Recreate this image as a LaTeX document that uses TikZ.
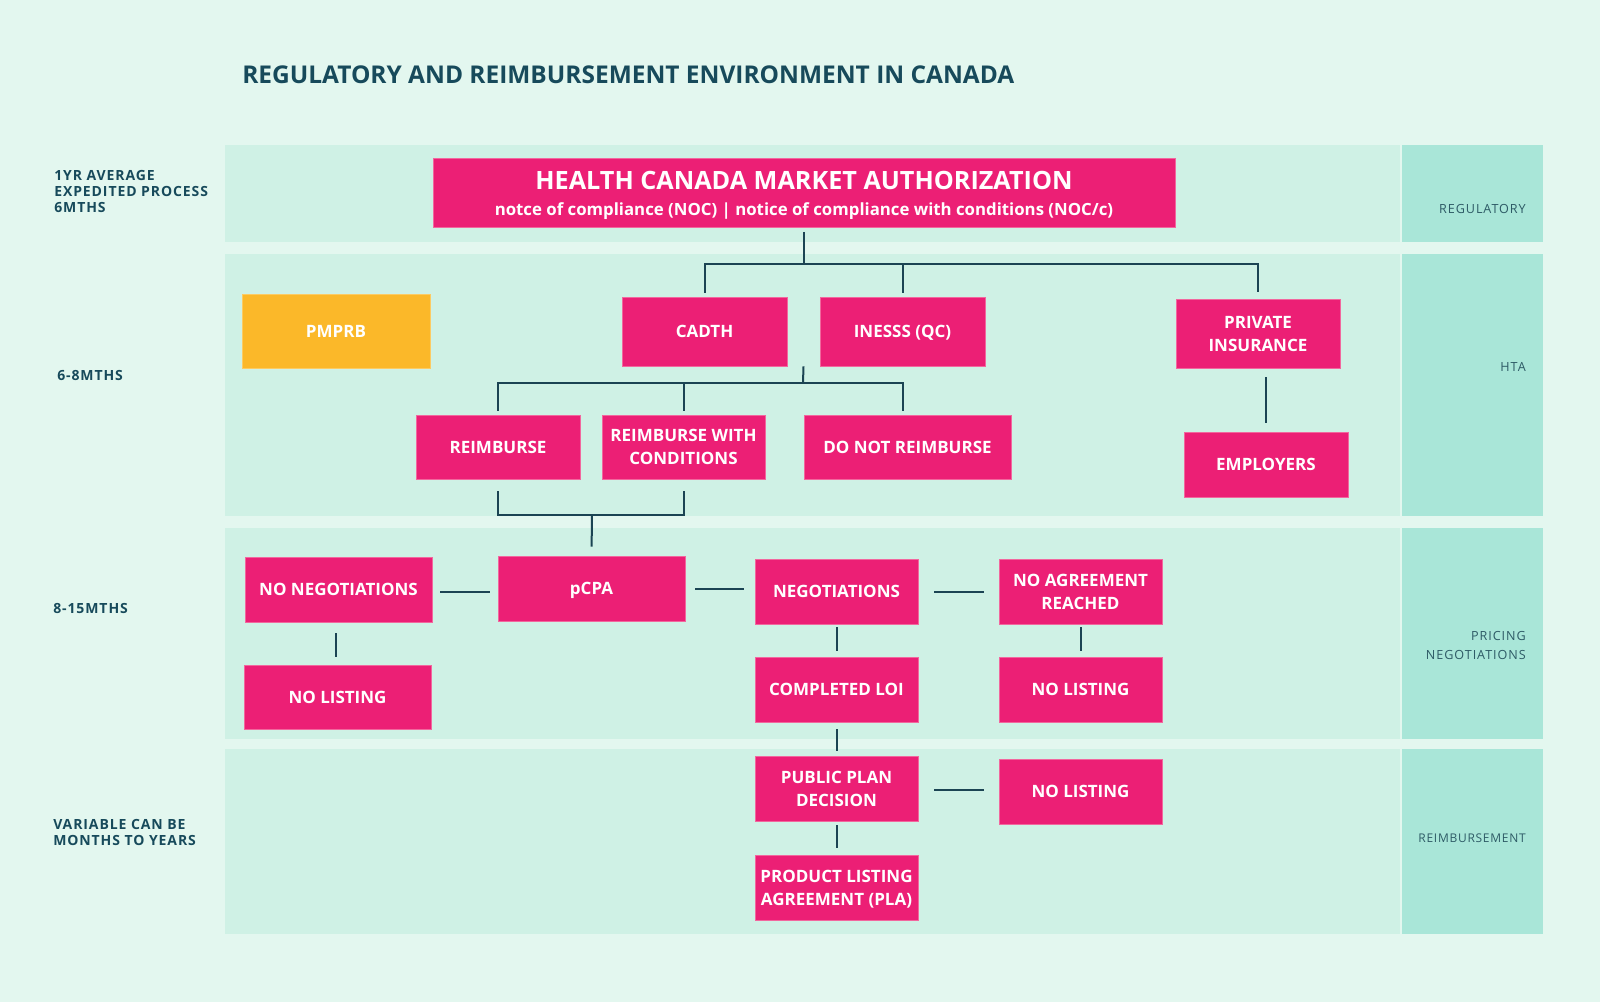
\documentclass[tikz,border=0pt]{standalone}
\usepackage{fontspec}
\setmainfont{Open Sans}
\usetikzlibrary{calc}
\definecolor{bgc}{HTML}{E3F7EF}
\definecolor{bandc}{HTML}{CFF1E5}
\definecolor{colc}{HTML}{A9E6D8}
\definecolor{pinkc}{HTML}{EC1F75}
\definecolor{pinkedge}{HTML}{F2679E}
\definecolor{orangec}{HTML}{FBB829}
\definecolor{orangeedge}{HTML}{FCCB63}
\definecolor{darkc}{HTML}{174A5B}
\definecolor{linec}{HTML}{1B4453}
\definecolor{labc}{HTML}{2E5B66}
\newcommand\pbox[7][]{\node[box,#1,minimum width={(#5-#3)*0.75pt},minimum height={(#6-#4)*0.75pt}] (#2) at ({(#3+#5)/2},{(#4+#6)/2}) {#7};}
\begin{document}
\begin{tikzpicture}[x=0.75pt,y=-0.75pt,
  box/.style={fill=pinkc,draw=pinkedge,line width=0.5pt,text=white,align=center,inner sep=0pt,text depth=0pt,font=\fontsize{12.75}{17.25}\selectfont\bfseries},
  orangebox/.style={fill=orangec,draw=orangeedge},
  conn/.style={draw=linec,line width=1.5pt},
  band/.style={fill=bandc},
  colbox/.style={fill=colc},
  titletxt/.style={text=darkc,inner sep=0pt,font=\fontsize{18.35}{22}\selectfont\bfseries},
  lefttxt/.style={text=darkc,align=left,inner sep=0pt,font=\fontsize{10.5}{12}\selectfont\bfseries\addfontfeature{LetterSpace=6.5}},
  righttxt/.style={text=labc,align=right,inner sep=0pt,font=\fontsize{9.45}{13.7}\selectfont\addfontfeature{LetterSpace=7.5}}
]
% background and bands
\fill[bgc] (0,0) rectangle (1600,1002);
\fill[band] (225,145) rectangle (1400,242);
\fill[band] (225,254) rectangle (1400,516);
\fill[band] (225,528) rectangle (1400,739);
\fill[band] (225,749) rectangle (1400,934);
\fill[colbox] (1402,145) rectangle (1543,242);
\fill[colbox] (1402,254) rectangle (1543,516);
\fill[colbox] (1402,528) rectangle (1543,739);
\fill[colbox] (1402,749) rectangle (1543,934);

% title
\node[titletxt,anchor=base west] (title) at (242,83.3) {REGULATORY AND REIMBURSEMENT ENVIRONMENT IN CANADA};

% left labels
\node[lefttxt,anchor=north west] (l1) at (54,170) {1YR AVERAGE\\EXPEDITED PROCESS\\6MTHS};
\node[lefttxt,anchor=base west] (l2) at (57,380.5) {6-8MTHS};
\node[lefttxt,anchor=base west] (l3) at (53,613) {8-15MTHS};
\node[lefttxt,anchor=north west] (l4) at (53,819.5) {VARIABLE CAN BE\\MONTHS TO YEARS};

% right labels
\node[righttxt,anchor=base east] (r1) at (1526,214) {REGULATORY};
\node[righttxt,anchor=base east] (r2) at (1526,371) {HTA};
\node[righttxt,anchor=north east] (r3) at (1526,631.6) {PRICING\\NEGOTIATIONS};
\node[righttxt,anchor=base east,font=\fontsize{9}{12}\selectfont\addfontfeature{LetterSpace=6}] (r4) at (1526,842.7) {REIMBURSEMENT};

% boxes
\pbox{hc}{433}{158}{1175}{227}{}
\node[text=white,inner sep=0pt,anchor=base,font=\fontsize{18.9}{22}\selectfont\bfseries] (hct) at (804,190) {HEALTH CANADA MARKET AUTHORIZATION};
\node[text=white,inner sep=0pt,anchor=base,font=\fontsize{12.6}{15}\selectfont\bfseries] (hcs) at (804,215.3) {notce of compliance (NOC) | notice of compliance with conditions (NOC/c)};

\pbox[orangebox]{pmprb}{242}{294}{430}{368}{PMPRB}
\pbox{cadth}{622}{297}{787}{366}{CADTH}
\pbox{ines}{820}{297}{985}{366}{INESSS (QC)}
\pbox{priv}{1176}{299}{1340}{368}{PRIVATE\\INSURANCE}
\pbox{emp}{1184}{432}{1348}{497}{EMPLOYERS}
\pbox{reimb}{416}{415}{580}{479}{REIMBURSE}
\pbox{rwc}{602}{415}{765}{479}{REIMBURSE WITH\\CONDITIONS}
\pbox{dnr}{804}{415}{1011}{479}{DO NOT REIMBURSE}
\pbox{nneg}{245}{557}{432}{622}{NO NEGOTIATIONS}
\pbox{pcpa}{498}{556}{685}{621}{pCPA}
\pbox{neg}{755}{559}{918}{624}{NEGOTIATIONS}
\pbox{nar}{999}{559}{1162}{624}{NO AGREEMENT\\REACHED}
\pbox{nlone}{244}{665}{431}{729}{NO LISTING}
\pbox{loi}{755}{657}{918}{722}{COMPLETED LOI}
\pbox{nltwo}{999}{657}{1162}{722}{NO LISTING}
\pbox{ppd}{755}{756}{918}{821}{PUBLIC PLAN\\DECISION}
\pbox{nlthree}{999}{759}{1162}{824}{NO LISTING}
\pbox{pla}{755}{855}{918}{920}{PRODUCT LISTING\\AGREEMENT (PLA)}

% connectors: regulatory -> HTA
\coordinate (ja) at (804,264);
\draw[conn,shorten <=3.5pt] (hc.south) -- (ja);
\draw[conn,shorten >=3pt] (ja) -| (cadth.north);
\draw[conn,shorten >=3pt] (ja) -| (ines.north);
\draw[conn,shorten >=5pt] (ja) -| (priv.north);
\draw[conn,shorten <=6.75pt,shorten >=6.75pt] (priv.south -| emp.north) -- (emp.north);

% CADTH/INESSS -> outcomes
\coordinate (jb) at (803,383);
\draw[conn] ($(cadth.south east)!0.5!(ines.south west)$) -- (jb);
\draw[conn,shorten >=2.5pt] (jb) -| (reimb.north);
\draw[conn,shorten >=2.5pt] (jb) -| (rwc.north);
\draw[conn,shorten >=2.5pt] (jb) -| (ines.south |- dnr.north);

% outcomes -> pCPA
\coordinate (jc) at (592,515);
\draw[conn,shorten <=9pt] (reimb.south) |- (jc);
\draw[conn,shorten <=9pt] (rwc.south) |- (jc);
\draw[conn,shorten >=6.75pt] (jc) -- (pcpa.north);

% pricing negotiations
\draw[conn,shorten <=6pt,shorten >=6pt] ([yshift=-1.5pt]nneg.east) -- ([yshift=-1.5pt]nneg.east -| pcpa.west);
\draw[conn,shorten <=7.3pt,shorten >=8.25pt] (pcpa.east) -- (pcpa.east -| neg.west);
\draw[conn,shorten <=12pt,shorten >=11.25pt] (neg.east) -- (neg.east -| nar.west);
\draw[conn,shorten <=8.25pt,shorten >=6pt] ([xshift=-2pt]nneg.south) -- ([xshift=-2pt]nneg.south |- nlone.north);
\draw[conn,shorten <=2.25pt,shorten >=4.5pt] (neg.south) -- (loi.north);
\draw[conn,shorten <=2.25pt,shorten >=4.5pt] (nar.south) -- (nltwo.north);

% reimbursement
\draw[conn,shorten <=5pt,shorten >=3.2pt] (loi.south) -- (ppd.north);
\draw[conn,shorten <=12pt,shorten >=11.25pt] ([yshift=-1pt]ppd.east) -- ([yshift=-1pt]ppd.east -| nlthree.west);
\draw[conn,shorten <=3pt,shorten >=5.25pt] (ppd.south) -- (pla.north);
\end{tikzpicture}
\end{document}
